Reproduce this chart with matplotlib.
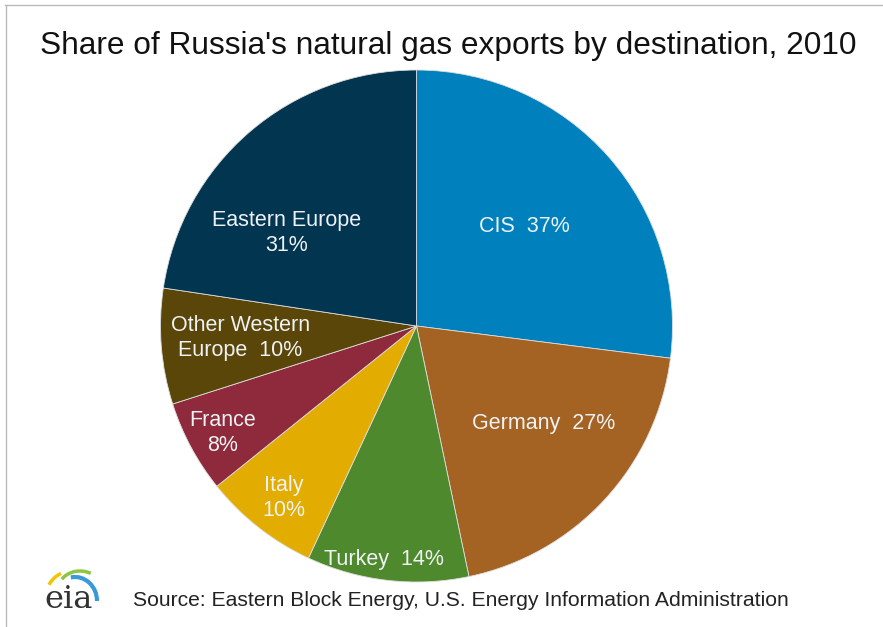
import numpy as np
import matplotlib.pyplot as plt
from matplotlib.patches import Arc

# shares as printed on the chart (slices drawn proportional to these)
regions = ["CIS", "Germany", "Turkey", "Italy", "France",
           "Other Western Europe", "Eastern Europe"]
shares = [37, 27, 14, 10, 8, 10, 31]
label_text = ["CIS  37%", "Germany  27%", "Turkey  14%", "Italy\n10%",
              "France\n8%", "Other Western\nEurope  10%", "Eastern Europe\n31%"]
colors = ["#0081BD", "#A46322", "#4E8A2D", "#E2AC00", "#8E2A3B",
          "#5B4609", "#023550"]
# label placement: radius and angle shift from the slice middle
label_r = [0.58, 0.62, 0.91, 0.84, 0.86, 0.69, 0.63]
label_shift = [2, 6, -1.5, 0, 0, -1.5, 13]

plt.rcParams['font.family'] = ['Liberation Sans', 'DejaVu Sans']

fig = plt.figure(figsize=(8.83, 6.27), dpi=100)
ax = fig.add_axes([160.5 / 883, 45 / 627, 512 / 883, 512 / 627])

wedges, _ = ax.pie(shares, colors=colors, startangle=90, counterclock=False,
                   wedgeprops=dict(linewidth=0.6, edgecolor='#dddddd'))
ax.set_xlim(-1, 1)
ax.set_ylim(-1, 1)
ax.set_aspect('equal')

for w, txt, r, sh in zip(wedges, label_text, label_r, label_shift):
    mid = np.deg2rad((w.theta1 + w.theta2) / 2 + sh)
    ax.text(r * np.cos(mid), r * np.sin(mid) - 0.01, txt, ha='center', va='center',
            fontsize=15.5, color='#EEF2F4', linespacing=1.25)

fig.text(448 / 883, 1 - 46 / 627, "Share of Russia's natural gas exports by destination, 2010",
         ha='center', va='center', fontsize=22.8, color='#111111')
fig.text(133 / 883, 1 - 601 / 627, "Source: Eastern Block Energy, U.S. Energy Information Administration",
         ha='left', va='center', fontsize=15.2, color='#222222')

# eia logo
fig.text(69 / 883, 1 - 600 / 627, "eia", family='DejaVu Serif', ha='center', va='center',
         fontsize=23, color='#333333')
lax = fig.add_axes([40 / 883, 12 / 627, 70 / 883, 50 / 627])
lax.set_xlim(40, 110)
lax.set_ylim(12, 62)
lax.axis('off')
lax.add_patch(Arc((75, 26), 44, 48, theta1=0, theta2=100, color='#3A9AD9', lw=3))
lax.add_patch(Arc((80, 35), 46, 42, theta1=60, theta2=145, color='#8DC63F', lw=2.5))
lax.add_patch(Arc((72, 30), 52, 52, theta1=115, theta2=152, color='#F5C400', lw=2.5))

# thin frame on top and left
fig.add_artist(plt.Line2D([5 / 883, 1], [1 - 5 / 627, 1 - 5 / 627], color='#bbbbbb', lw=1))
fig.add_artist(plt.Line2D([6 / 883, 6 / 883], [0, 1 - 5 / 627], color='#bbbbbb', lw=1))

fig.savefig("out.png", dpi=100, facecolor='white')
